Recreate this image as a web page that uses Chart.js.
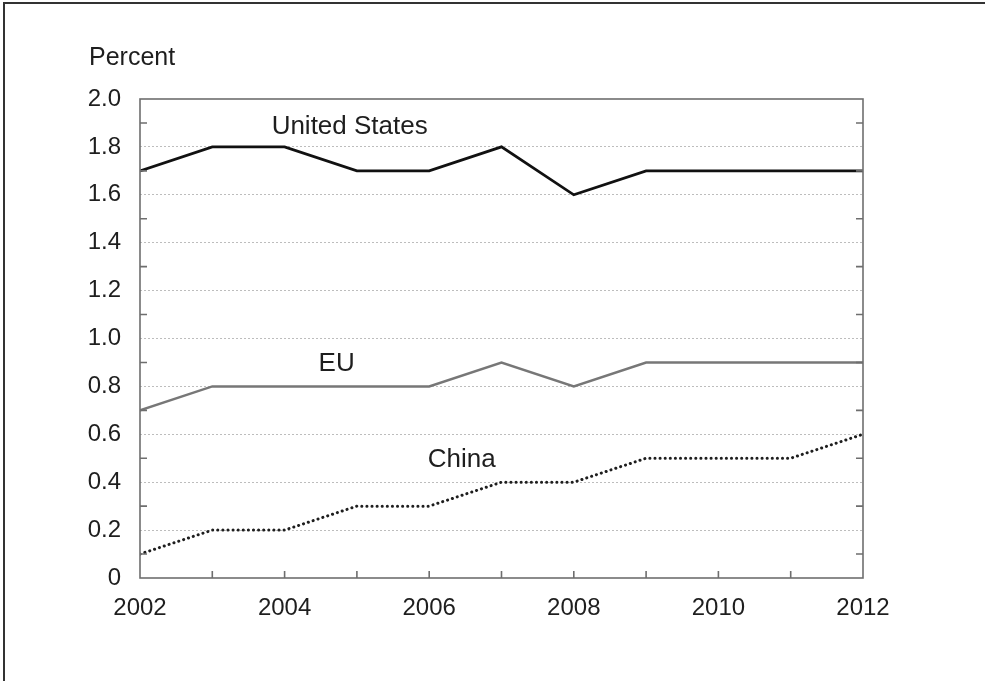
<!DOCTYPE html>
<html>
<head>
<meta charset="utf-8">
<script src="https://cdn.jsdelivr.net/npm/chart.js@4"></script>
<style>
  html, body { margin: 0; padding: 0; background: #fff; }
  #wrap { width: 985px; height: 681px; position: relative; }
</style>
</head>
<body>
<div id="wrap"><canvas id="myChart" width="985" height="681"></canvas></div>
<script>
// --- Data ---
const years = [2002, 2003, 2004, 2005, 2006, 2007, 2008, 2009, 2010, 2011, 2012];
const usValues = [1.7, 1.8, 1.8, 1.7, 1.7, 1.8, 1.6, 1.7, 1.7, 1.7, 1.7];
const euValues = [0.7, 0.8, 0.8, 0.8, 0.8, 0.9, 0.8, 0.9, 0.9, 0.9, 0.9];
const chinaValues = [0.1, 0.2, 0.2, 0.3, 0.3, 0.4, 0.4, 0.5, 0.5, 0.5, 0.6];
const yTickLabels = ["0", "0.2", "0.4", "0.6", "0.8", "1.0", "1.2", "1.4", "1.6", "1.8", "2.0"];
const xTickLabels = ["2002", "2004", "2006", "2008", "2010", "2012"];

// series labels placed in data coordinates
const seriesLabels = [
  { text: "United States", x: 2004.9, y: 1.885 },
  { text: "EU", x: 2004.72, y: 0.893 },
  { text: "China", x: 2006.45, y: 0.493 }
];

const FONT = "'Liberation Sans', Arial, Helvetica, sans-serif";
const TEXT_COLOR = "#1e1e1e";

const toPoints = vals => vals.map((v, i) => ({ x: years[i], y: v }));

// --- Plugin: frame, inward ticks, labels ---
const decorPlugin = {
  id: "decor",
  afterDraw(chart) {
    const ctx = chart.ctx;
    const area = chart.chartArea;
    const xs = chart.scales.x;
    const ys = chart.scales.y;
    ctx.save();

    // outer page border (top + left)
    ctx.strokeStyle = "#333";
    ctx.lineWidth = 2;
    ctx.beginPath();
    ctx.moveTo(4, 681);
    ctx.lineTo(4, 3);
    ctx.lineTo(985, 3);
    ctx.stroke();

    // plot box
    ctx.strokeStyle = "#6e6e6e";
    ctx.lineWidth = 1.6;
    ctx.strokeRect(area.left, area.top, area.right - area.left, area.bottom - area.top);

    // inward y ticks on odd tenths (both sides)
    ctx.beginPath();
    ys.ticks.forEach(t => {
      const k = Math.round(t.value * 10);
      if (k % 2 === 1) {
        const py = ys.getPixelForValue(t.value);
        ctx.moveTo(area.left, py);
        ctx.lineTo(area.left + 7, py);
        ctx.moveTo(area.right, py);
        ctx.lineTo(area.right - 7, py);
      }
    });
    // inward x ticks each year
    xs.ticks.forEach(t => {
      if (t.value > years[0] && t.value < years[years.length - 1]) {
        const px = xs.getPixelForValue(t.value);
        ctx.moveTo(px, area.bottom);
        ctx.lineTo(px, area.bottom - 7);
      }
    });
    ctx.stroke();

    // axis title
    ctx.fillStyle = TEXT_COLOR;
    ctx.font = "25px " + FONT;
    ctx.textAlign = "left";
    ctx.textBaseline = "alphabetic";
    ctx.fillText("Percent", 89, 65);

    // series labels
    ctx.font = "26px " + FONT;
    ctx.textAlign = "center";
    ctx.textBaseline = "middle";
    seriesLabels.forEach(l => {
      ctx.fillText(l.text, xs.getPixelForValue(l.x), ys.getPixelForValue(l.y));
    });
    ctx.restore();
  }
};

// --- Chart ---
const ctx = document.getElementById("myChart");
const chart = new Chart(ctx, {
  type: "line",
  data: {
    datasets: [
      {
        label: "United States",
        data: toPoints(usValues),
        borderColor: "#111",
        borderWidth: 2.8,
        pointRadius: 0,
        tension: 0
      },
      {
        label: "EU",
        data: toPoints(euValues),
        borderColor: "#777",
        borderWidth: 2.5,
        pointRadius: 0,
        tension: 0
      },
      {
        label: "China",
        data: toPoints(chinaValues),
        borderColor: "#1e1e1e",
        borderWidth: 3,
        borderDash: [0.1, 5],
        borderCapStyle: "round",
        pointRadius: 0,
        tension: 0
      }
    ]
  },
  options: {
    responsive: false,
    animation: false,
    layout: { padding: { top: 99, right: 122, left: 0, bottom: 0 } },
    plugins: {
      legend: { display: false },
      tooltip: { enabled: false }
    },
    scales: {
      x: {
        type: "linear",
        min: years[0],
        max: years[years.length - 1],
        afterFit: s => { s.height = 103; },
        grid: { display: false, drawTicks: false },
        border: { display: false },
        ticks: {
          stepSize: 1,
          autoSkip: false,
          maxRotation: 0,
          padding: 16,
          color: TEXT_COLOR,
          font: { family: FONT, size: 24 },
          callback: v => xTickLabels.includes(String(v)) ? String(v) : ""
        }
      },
      y: {
        min: 0,
        max: 2,
        afterFit: s => { s.width = 140; },
        grid: {
          drawTicks: false,
          lineWidth: 1,
          color: c => {
            const k = Math.round(c.tick.value * 10);
            return (k % 2 === 0 && k > 0 && k < 20) ? "#bdbdbd" : "rgba(0,0,0,0)";
          }
        },
        border: { display: false, dash: [2, 2] },
        ticks: {
          stepSize: 0.1,
          autoSkip: false,
          padding: 19,
          color: TEXT_COLOR,
          font: { family: FONT, size: 24 },
          callback: v => {
            const k = Math.round(v * 10);
            return k % 2 === 0 ? yTickLabels[k / 2] : "";
          }
        }
      }
    }
  },
  plugins: [decorPlugin]
});
</script>
</body>
</html>
